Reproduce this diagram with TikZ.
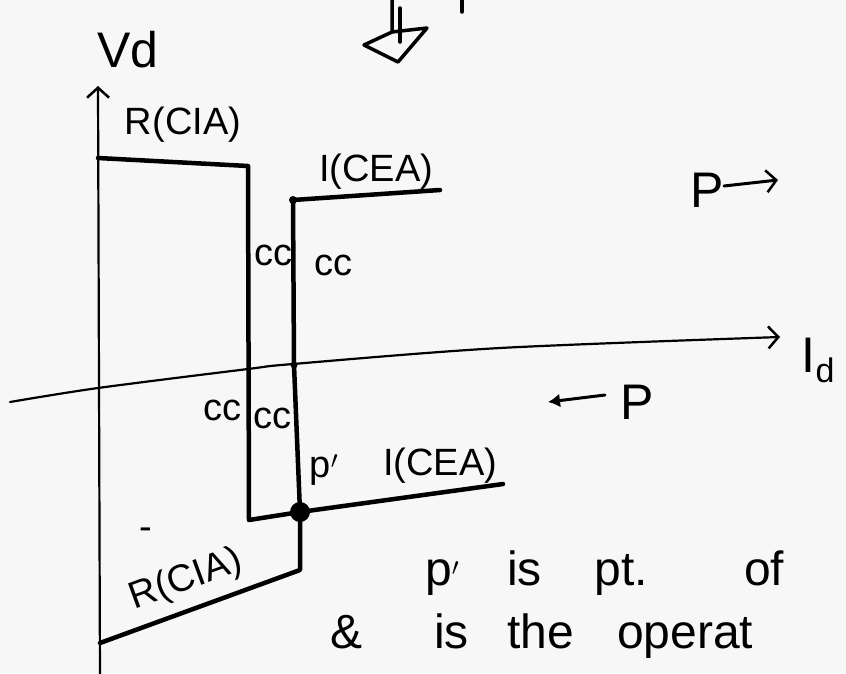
\documentclass[tikz,border=0pt]{standalone}
\usepackage{fontspec}
\setmainfont{Liberation Sans}
\usetikzlibrary{arrows.meta}
\begin{document}
\begin{tikzpicture}[x=1pt,y=-1pt,
  ink/.style={line width=4.5pt, line cap=round, line join=round},
  axis/.style={line width=2.2pt, line cap=round},
  lbl/.style={font=\fontsize{38}{42}\selectfont, inner sep=0pt},
  big/.style={font=\fontsize{50}{54}\selectfont, inner sep=0pt},
  note/.style={font=\fontsize{48}{52}\selectfont, inner sep=0pt, anchor=base west},
  tip/.style={-{Straight Barb[length=10pt,width=22pt,line width=2.5pt]}}
]
\useasboundingbox (0,0) rectangle (846,673);
\fill[white!94!gray] (0,0) rectangle (846,673);
\clip (0,0) rectangle (846,673);
% axes
\coordinate (vbot) at (100,680);
\coordinate (vtop) at (98,86);
\draw[axis, tip] (vbot) -- (vtop);
\draw[axis, tip] plot[smooth] coordinates {(10,402) (98,388) (248,369) (293,364) (500,348) (780,337)};
\node[big] (vd) at (128,50) {Vd};
\node[big] (id) at (818,360) {I\raisebox{-10pt}{\fontsize{34}{36}\selectfont d}};
% curves
\coordinate (a1) at (98,158);
\coordinate (a2) at (248,166);
\coordinate (a3) at (249,520);
\node[circle, fill=black, minimum size=20pt, inner sep=0pt] (pp) at (300,512) {};
\node[circle, fill=black, minimum size=8pt, inner sep=0pt] (q1) at (293,200) {};
\node[circle, fill=black, minimum size=7pt, inner sep=0pt] (q2) at (294,365) {};
\coordinate (b1) at (440,190);
\coordinate (c1) at (300,570);
\coordinate (c2) at (100,643);
\coordinate (d1) at (503,484);
\draw[ink] (a1) -- (a2) -- (a3) -- (pp.center);
\draw[ink] (b1) -- (q1.center) -- (q2.center) -- (pp.center) -- (c1) -- (c2);
\draw[ink] (pp.center) -- (d1);
% labels
\node[lbl] (r1) at (183,125) {R(CIA)};
\node[lbl] (i1) at (376,172) {I(CEA)};
\node[lbl] (cc1) at (273,255) {cc};
\node[lbl] (cc2) at (333,265) {cc};
\node[lbl] (cc3) at (222,410) {cc};
\node[lbl] (cc4) at (272,418) {cc};
\node[lbl] (pp1) at (324,470) {p$'$};
\node[lbl] (i2) at (440,466) {I(CEA)};
\node[lbl, rotate=20] (r2) at (186,580) {R(CIA)};
\node[lbl] (dash) at (146,534) {-};
\node[big] (p1) at (707,190) {P};
\coordinate (pa1) at (724,186);
\coordinate (pa2) at (778,180);
\draw[axis, line width=3pt, tip] (pa1) -- (pa2);
\node[big] (p2) at (637,402) {P};
\coordinate (pb1) at (605,395);
\coordinate (pb2) at (548,402);
\draw[axis, line width=3pt, -{Latex[length=12pt,width=14pt]}] (pb1) -- (pb2);
% notes
\node[note] (n1) at (425,585) {p$'$\hspace{1.0em}is\hspace{1.1em}pt.\hspace{2.0em}of};
\node[note] (n2) at (330,648) {\&\hspace{1.5em}is\hspace{0.8em}the\hspace{0.9em}operat};
% top partial arrow
\coordinate (t1) at (392,0);
\coordinate (t2) at (392,32);
\coordinate (t3) at (364,45);
\coordinate (t4) at (398,62);
\coordinate (t5) at (427,28);
\coordinate (t6) at (400,8);
\coordinate (t7) at (400,42);
\draw[ink, line width=3.5pt] (t1) -- (t2) -- (t3) -- (t4) -- (t5) -- (t2);
\draw[ink, line width=3.5pt] (t6) -- (t7);
\coordinate (u1) at (462,0);
\coordinate (u2) at (462,12);
\draw[ink, line width=3.5pt] (u1) -- (u2);
\end{tikzpicture}
\end{document}
